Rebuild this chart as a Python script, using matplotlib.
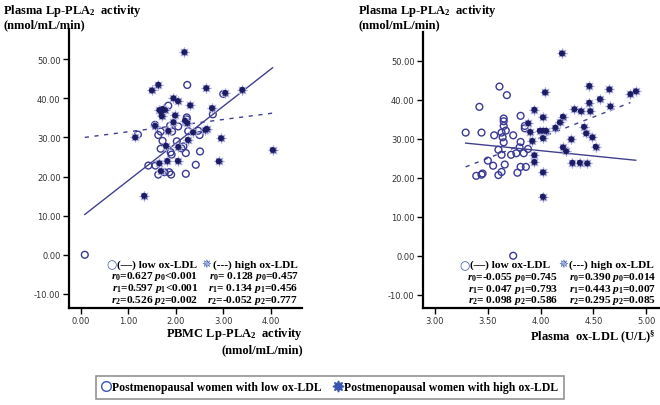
import numpy as np
import matplotlib
matplotlib.use("Agg")
import matplotlib.pyplot as plt
from matplotlib.lines import Line2D

plt.rcParams['mathtext.fontset'] = 'custom'
plt.rcParams['mathtext.rm'] = 'Liberation Serif:bold'
plt.rcParams['mathtext.bf'] = 'Liberation Serif:bold'
plt.rcParams['mathtext.it'] = 'Liberation Serif:italic:bold'

# left panel: PBMC Lp-PLA2 activity vs plasma Lp-PLA2 activity
left_low_x = [2.24, 3.00, 1.84, 2.78, 2.23, 2.23, 1.56, 2.05, 1.88, 1.68, 1.92, 2.47, 2.50, 1.20,
              1.63, 1.72, 2.02, 1.68, 2.16, 2.12, 1.89, 1.91, 2.21, 2.51, 1.42, 1.57, 2.42, 1.63,
              1.76, 1.86, 1.90, 2.21, 2.26, 0.08]
left_low_y = [43.4, 41.1, 38.1, 35.9, 35.1, 34.6, 33.2, 32.8, 33.0, 31.5, 31.5, 31.7, 30.6, 30.7,
              30.6, 29.1, 29.0, 27.1, 27.7, 27.2, 26.2, 25.6, 26.0, 26.4, 22.8, 22.8, 23.0, 20.5,
              21.1, 21.1, 20.5, 20.7, 31.6, 0.0]
left_high_x = [2.18, 1.49, 1.63, 2.64, 3.04, 3.40, 1.95, 2.04, 2.30, 2.76, 1.65, 1.72, 1.77, 1.69,
               1.70, 1.98, 1.95, 2.19, 2.24, 1.56, 1.14, 1.84, 2.62, 2.65, 2.36, 1.79, 2.05, 2.25,
               2.95, 4.04, 1.82, 2.04, 1.65, 2.90, 1.68, 1.33]
left_high_y = [51.8, 42.0, 43.5, 42.6, 41.4, 42.2, 40.0, 39.3, 38.2, 37.5, 37.0, 37.3, 37.0, 36.4,
               35.4, 35.6, 33.9, 34.3, 33.7, 33.0, 30.0, 31.7, 31.9, 32.2, 31.3, 27.9, 27.6, 29.4,
               29.8, 26.8, 24.0, 24.0, 23.4, 23.9, 21.4, 15.1]
left_fit_x = [0.08, 4.04]
left_low_fit = [10.3, 47.8]
left_high_fit = [30.0, 36.2]

# right panel: plasma ox-LDL vs plasma Lp-PLA2 activity
right_low_x = [3.61, 3.68, 3.42, 3.81, 3.65, 3.65, 3.29, 3.44, 3.65, 3.67, 3.63, 3.56, 3.74, 3.64,
               3.65, 3.81, 3.85, 3.85, 3.60, 3.63, 3.72, 3.77, 3.80, 3.84, 3.88, 3.50, 3.55, 3.66,
               3.81, 3.86, 3.63, 3.39, 3.44, 3.45, 3.60, 3.78, 3.74]
right_low_y = [43.4, 41.2, 38.2, 35.9, 35.2, 34.5, 31.6, 31.6, 33.3, 32.1, 31.6, 30.9, 30.9, 30.4,
               29.1, 29.2, 33.3, 32.7, 27.2, 25.9, 25.9, 26.3, 27.8, 26.3, 27.4, 24.4, 23.1, 23.4,
               22.8, 22.8, 21.5, 20.5, 20.8, 21.1, 20.7, 21.3, 0.0]
right_high_x = [4.20, 4.04, 4.46, 4.65, 4.85, 4.90, 4.56, 4.46, 3.94, 4.32, 4.38, 4.47, 4.66, 4.02,
                4.21, 3.88, 4.18, 4.14, 3.90, 3.99, 4.02, 4.05, 4.02, 3.92, 4.41, 4.43, 4.49, 4.29,
                4.52, 4.21, 4.24, 3.94, 3.94, 4.30, 4.37, 4.44, 4.02, 4.02]
right_high_y = [51.9, 41.9, 43.6, 42.7, 41.5, 42.2, 40.2, 39.3, 37.5, 37.6, 37.1, 37.1, 38.3, 35.5,
                35.7, 34.0, 34.2, 32.9, 31.8, 32.1, 32.1, 32.1, 30.2, 29.5, 33.1, 31.4, 30.4, 29.9,
                28.0, 27.8, 26.8, 25.8, 24.1, 23.9, 23.9, 23.7, 21.4, 15.2]
right_low_fit_x = [3.29, 4.90]
right_low_fit = [28.9, 24.5]
right_high_fit_x = [3.29, 4.85]
right_high_fit = [22.8, 39.3]

left_stats = [
    (r"$r_0$=0.627 $p_0$<0.001", r"$r_0$= 0.128 $p_0$=0.457"),
    (r"$r_1$=0.597 $p_1$<0.001", r"$r_1$= 0.134 $p_1$=0.456"),
    (r"$r_2$=0.526 $p_2$=0.002", r"$r_2$=-0.052 $p_2$=0.777"),
]
right_stats = [
    (r"$r_0$=-0.055 $p_0$=0.745", r"$r_0$=0.390 $p_0$=0.014"),
    (r"$r_1$= 0.047 $p_1$=0.793", r"$r_1$=0.443 $p_1$=0.007"),
    (r"$r_2$= 0.098 $p_2$=0.586", r"$r_2$=0.295 $p_2$=0.085"),
]

NAVY = '#1c1c64'
CIRC = '#3a3a94'
LINE = '#40408c'
STAR = (8, 1, 0)
serif = 'Liberation Serif'

fig = plt.figure(figsize=(6.6, 4.06), dpi=100)
ax1 = fig.add_axes([69/660, 97/406, 233/660, 279/406])
ax2 = fig.add_axes([423/660, 97/406, 237/660, 276/406])


def style_axis(ax, xticks, yticks):
    for s in ['top', 'right']:
        ax.spines[s].set_visible(False)
    for s in ['left', 'bottom']:
        ax.spines[s].set_linewidth(1.6)
    ax.set_xticks(xticks)
    ax.set_yticks(yticks)
    ax.set_xticklabels(['%.2f' % t for t in xticks])
    ax.set_yticklabels(['%.2f' % t for t in yticks])
    ax.tick_params(length=4, width=1, labelsize=6, labelcolor='#333333', pad=2)


def draw_panel(ax, lx, ly, hx, hy):
    ax.scatter(lx, ly, marker='o', facecolors='none', edgecolors=CIRC, s=24, linewidths=1.0, zorder=3)
    # sunburst stars: spiky halo plus solid core
    ax.scatter(hx, hy, marker=STAR, color=NAVY, edgecolors='#b4b4e2', s=52, linewidths=0.6, zorder=3)
    ax.scatter(hx, hy, marker='o', color=NAVY, edgecolors='none', s=17, zorder=4)


def stat_block(ax, x_icon1, x_txt1, x_icon2, x_txt2, col1_right, col2_right, stats):
    y0 = 0.158
    fs = 8.2
    ax.text(x_icon1, y0, u'\u25cb', color='#3a55b0', fontsize=8.5, family='DejaVu Sans',
            ha='right', va='center', transform=ax.transAxes)
    ax.text(x_txt1, y0, u'(\u2014) low ox-LDL', fontsize=fs, family=serif, fontweight='bold',
            ha='left', va='center', transform=ax.transAxes)
    ax.text(x_icon2, y0, u'\u2735', color='#3a55b0', fontsize=8.5, family='DejaVu Sans',
            ha='right', va='center', transform=ax.transAxes)
    ax.text(x_txt2, y0, '(---) high ox-LDL', fontsize=fs, family=serif, fontweight='bold',
            ha='left', va='center', transform=ax.transAxes)
    for i, (a, b) in enumerate(stats):
        y = y0 - 0.043 * (i + 1)
        ax.text(col1_right, y, a, fontsize=fs, family=serif, fontweight='bold',
                ha='right', va='center', transform=ax.transAxes)
        ax.text(col2_right, y, b, fontsize=fs, family=serif, fontweight='bold',
                ha='right', va='center', transform=ax.transAxes)


# left panel
draw_panel(ax1, left_low_x, left_low_y, left_high_x, left_high_y)
ax1.plot(left_fit_x, left_low_fit, color=LINE, lw=1.0, zorder=2)
ax1.plot(left_fit_x, left_high_fit, color=LINE, lw=1.0, dashes=(3, 4), zorder=2)
ax1.set_xlim(-0.253, 4.66)
ax1.set_ylim(-13.6, 57.7)
style_axis(ax1, [0, 1, 2, 3, 4], [-10, 0, 10, 20, 30, 40, 50])
stat_block(ax1, 0.205, 0.208, 0.613, 0.617, 0.555, 0.985, left_stats)

# right panel
draw_panel(ax2, right_low_x, right_low_y, right_high_x, right_high_y)
ax2.plot(right_low_fit_x, right_low_fit, color=LINE, lw=1.0, zorder=2)
ax2.plot(right_high_fit_x, right_high_fit, color=LINE, lw=1.0, dashes=(3, 4), zorder=2)
ax2.set_xlim(2.886, 5.13)
ax2.set_ylim(-13.4, 57.4)
style_axis(ax2, [3.0, 3.5, 4.0, 4.5, 5.0], [-10, 0, 10, 20, 30, 40, 50])
stat_block(ax2, 0.196, 0.199, 0.614, 0.618, 0.571, 0.985, right_stats)

# axis titles
ylab = 'Plasma Lp-PLA$_2$  activity\n(nmol/mL/min)'
fig.text(3/660, 1 - 3/406, ylab, fontsize=9, family=serif, fontweight='bold', ha='left', va='top',
         linespacing=1.05)
fig.text(358/660, 1 - 3/406, ylab, fontsize=9, family=serif, fontweight='bold', ha='left', va='top',
         linespacing=1.05)
fig.text(303/660, 1 - 326/406, 'PBMC Lp-PLA$_2$  activity\n(nmol/mL/min)', fontsize=9, family=serif,
         fontweight='bold', ha='right', va='top', linespacing=1.3, multialignment='right')
fig.text(656/660, 1 - 328/406, 'Plasma  ox-LDL (U/L)$^{\\S}$', fontsize=9, family=serif,
         fontweight='bold', ha='right', va='top')

# bottom legend
handles = [
    Line2D([], [], marker='o', ls='none', markerfacecolor='none', markeredgecolor='#3a55b0',
           markersize=7, markeredgewidth=1.0),
    Line2D([], [], marker=STAR, ls='none', color='#3a55b0', markersize=8),
]
leg = fig.legend(handles, ['Postmenopausal women with low ox-LDL', 'Postmenopausal women with high ox-LDL'],
                 loc='center', bbox_to_anchor=(330/660, 17.5/406), ncol=2, frameon=True, fancybox=False,
                 handlelength=0.8, handletextpad=0.1, columnspacing=1.0, borderpad=0.45,
                 prop={'family': serif, 'weight': 'bold', 'size': 8.5})
leg.get_frame().set_edgecolor('#777777')
leg.get_frame().set_linewidth(1.2)

fig.savefig('out.png', dpi=100)
